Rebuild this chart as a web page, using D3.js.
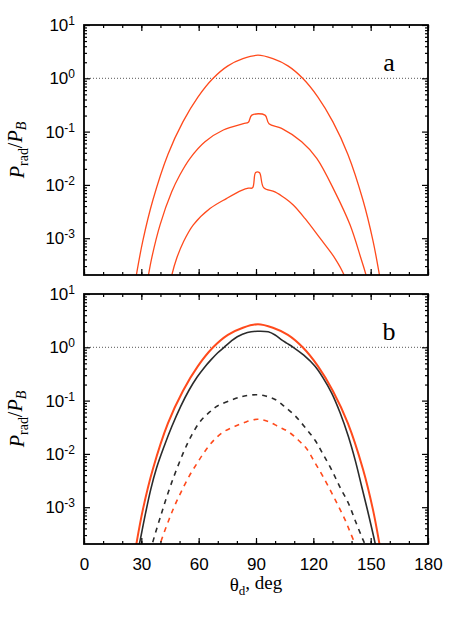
<!DOCTYPE html>
<html>
<head>
<meta charset="utf-8">
<script src="https://cdn.jsdelivr.net/npm/d3@7"></script>
<style>
  body { margin: 0; background: #fff; }
  svg { display: block; }
</style>
</head>
<body>
<div id="chart"></div>
<script>
// data: [theta_d (deg), P_rad / P_B]
const totalOrange = [
  [26.1, 1.07e-4], [27.4, 2.04e-4], [30.8, 9.0e-4], [36.05, 5.2e-3], [43.9, 0.0373],
  [51.75, 0.152], [59.6, 0.444], [67.45, 0.99], [75.3, 1.71], [83.15, 2.33],
  [91, 2.71], [98.85, 2.33], [106.7, 1.71], [114.55, 0.99], [122.4, 0.444],
  [130.25, 0.152], [138.1, 0.0373], [145.95, 5.2e-3], [151.2, 9.0e-4],
  [154.6, 2.04e-4], [155.9, 1.07e-4]
];
const midA = [
  [33, 1.4e-4], [33.7, 2e-4], [35.4, 4.2e-4], [39.8, 1.78e-3], [45.9, 7.4e-3],
  [50.2, 0.0155], [55.5, 0.0316], [63.3, 0.0646], [72.9, 0.107], [83.4, 0.141],
  [86, 0.15], [87.8, 0.204], [94.7, 0.204], [96.8, 0.141], [103.4, 0.115],
  [113.9, 0.0646], [121.8, 0.0316], [131.3, 7.4e-3], [139.2, 1.78e-3],
  [144.9, 4.2e-4], [147.6, 2e-4], [148.3, 1.4e-4]
];
const lowA = [
  [45.2, 1.5e-4], [45.9, 2e-4], [48.5, 4.2e-4], [52, 8.5e-4], [57.2, 1.78e-3],
  [65.9, 3.6e-3], [74.7, 5.6e-3], [82.5, 7.9e-3], [86, 8.7e-3], [88.2, 8.8e-3],
  [89.8, 0.017], [91.8, 0.017], [94, 8.9e-3], [99.9, 7.4e-3], [105.2, 5.6e-3],
  [109.5, 4.2e-3], [115.6, 2.35e-3], [123.5, 1e-3], [131.3, 4.2e-4],
  [136.2, 2e-4], [137, 1.6e-4]
];
const blackB = [
  [28, 1.5e-4], [28.8, 1.9e-4], [31.5, 5.8e-4], [34.9, 2.14e-3], [38, 5.5e-3],
  [41.9, 0.0138], [46, 0.033], [50.6, 0.078], [55, 0.158], [59.3, 0.28], [63, 0.42],
  [66.3, 0.575], [70, 0.79], [73.3, 1.0], [77, 1.3], [80.2, 1.58], [85.5, 1.9],
  [90.7, 2.0], [96.4, 1.95], [100, 1.7], [103.4, 1.38], [106, 1.2], [109.5, 1.0],
  [115, 0.71], [120.9, 0.44], [125, 0.27], [129.6, 0.138], [134, 0.059],
  [138.3, 0.0214], [142, 7.4e-3], [145.3, 2.45e-3], [149, 7e-4], [152.6, 1.9e-4],
  [153.3, 1.4e-4]
];
const blackDashedB = [
  [35, 1.45e-4], [35.7, 2e-4], [40.1, 6.8e-4], [45.4, 2.6e-3], [52.3, 0.0112],
  [56.5, 0.023], [61.1, 0.042], [65.5, 0.06], [69.8, 0.079], [78.5, 0.107],
  [84, 0.122], [90.7, 0.129], [95, 0.122], [100, 0.105], [105, 0.077],
  [110.4, 0.052], [115.5, 0.032], [120.9, 0.018], [125, 0.01], [129.6, 5e-3],
  [134, 2.35e-3], [138.3, 1.2e-3], [142, 5.5e-4], [145.3, 2.8e-4], [147, 2e-4],
  [148, 1.5e-4]
];
const orangeDashedB = [
  [39, 1.5e-4], [39.8, 2e-4], [44.5, 5.9e-4], [47.5, 1.08e-3], [50.6, 1.86e-3],
  [55, 3.8e-3], [59.3, 6.8e-3], [63.5, 0.0115], [68, 0.0182], [73, 0.026],
  [78.5, 0.0324], [84, 0.039], [90.7, 0.0447], [96, 0.041], [101.8, 0.0324],
  [107, 0.026], [112.1, 0.0182], [116.5, 0.0125], [120.9, 6.8e-3], [125, 3.8e-3],
  [129.6, 1.86e-3], [133, 1.07e-3], [136.5, 5.9e-4], [139, 3.6e-4], [141.8, 2e-4],
  [142.5, 1.6e-4]
];
const xTicks = [0, 30, 60, 90, 120, 150, 180];
const yTicks = [1e-3, 1e-2, 1e-1, 1, 10];
const panelLetters = ["a", "b"];

const W = 452, H = 633;
const LEFT = 84, RIGHT = 428;
const PANELS = [{ top: 25, bottom: 275 }, { top: 294, bottom: 544 }];
const ORANGE = "#ff4a1c", BLACK = "#2b2b2b";

const svg = d3.select("#chart").append("svg")
  .attr("width", W).attr("height", H);

const x = d3.scaleLinear().domain([0, 180]).range([LEFT, RIGHT]);
const xMinor = d3.range(0, 181, 10);

const panels = [
  [
    { data: totalOrange, color: ORANGE, width: 1.3 },
    { data: midA, color: ORANGE, width: 1.3 },
    { data: lowA, color: ORANGE, width: 1.3 }
  ],
  [
    { data: totalOrange, color: ORANGE, width: 2 },
    { data: blackB, color: BLACK, width: 1.6 },
    { data: blackDashedB, color: BLACK, width: 1.6, dash: "5,5" },
    { data: orangeDashedB, color: ORANGE, width: 1.6, dash: "5,5" }
  ]
];

panels.forEach((series, i) => {
  const P = PANELS[i];
  const y = d3.scaleLog().domain([2.04e-4, 10]).range([P.bottom, P.top]);
  const yMinor = [];
  [1e-4, 1e-3, 1e-2, 1e-1, 1].forEach(dec => {
    for (let k = 2; k <= 9; k++) {
      const v = dec * k;
      if (v >= 2.04e-4 && v <= 10) yMinor.push(v);
    }
  });

  const g = svg.append("g");

  svg.append("clipPath").attr("id", "clip" + i)
    .append("rect")
    .attr("x", LEFT).attr("y", P.top)
    .attr("width", RIGHT - LEFT).attr("height", P.bottom - P.top);

  // dotted reference line at 1
  g.append("line")
    .attr("x1", LEFT).attr("x2", RIGHT)
    .attr("y1", y(1)).attr("y2", y(1))
    .attr("stroke", "#555").attr("stroke-width", 1)
    .attr("stroke-dasharray", "1,2");

  const line = d3.line()
    .x(d => x(d[0]))
    .y(d => y(d[1]))
    .curve(d3.curveCatmullRom.alpha(0.5));

  g.append("g").attr("clip-path", `url(#clip${i})`)
    .selectAll("path")
    .data(series)
    .join("path")
    .attr("d", d => line(d.data))
    .attr("fill", "none")
    .attr("stroke", d => d.color)
    .attr("stroke-width", d => d.width)
    .attr("stroke-dasharray", d => d.dash || null);

  // axes, ticks pointing inward
  const styleAxis = sel => {
    sel.select(".domain").remove();
    sel.selectAll(".tick line").attr("stroke", "#000").attr("stroke-width", 1.2);
  };

  g.append("g").attr("transform", `translate(0,${P.bottom})`)
    .call(d3.axisBottom(x).tickValues(xMinor).tickSize(-3).tickFormat(""))
    .call(styleAxis).selectAll("text").remove();
  g.append("g").attr("transform", `translate(0,${P.top})`)
    .call(d3.axisTop(x).tickValues(xMinor).tickSize(-3).tickFormat(""))
    .call(styleAxis).selectAll("text").remove();
  g.append("g").attr("transform", `translate(0,${P.top})`)
    .call(d3.axisTop(x).tickValues(xTicks).tickSize(-6).tickFormat(""))
    .call(styleAxis).selectAll("text").remove();

  const xb = g.append("g").attr("transform", `translate(0,${P.bottom})`)
    .call(d3.axisBottom(x).tickValues(xTicks).tickSize(-6).tickPadding(14))
    .call(styleAxis);
  if (i === 1) {
    xb.selectAll("text")
      .attr("font-family", "Liberation Sans, Arial, sans-serif")
      .attr("font-size", 17).attr("fill", "#000");
  } else {
    xb.selectAll("text").remove();
  }

  g.append("g").attr("transform", `translate(${LEFT},0)`)
    .call(d3.axisLeft(y).tickValues(yMinor).tickSize(-3).tickFormat(""))
    .call(styleAxis).selectAll("text").remove();
  g.append("g").attr("transform", `translate(${RIGHT},0)`)
    .call(d3.axisRight(y).tickValues(yMinor).tickSize(-3).tickFormat(""))
    .call(styleAxis).selectAll("text").remove();
  g.append("g").attr("transform", `translate(${RIGHT},0)`)
    .call(d3.axisRight(y).tickValues(yTicks).tickSize(-6).tickFormat(""))
    .call(styleAxis).selectAll("text").remove();

  const yl = g.append("g").attr("transform", `translate(${LEFT},0)`)
    .call(d3.axisLeft(y).tickValues(yTicks).tickSize(-6).tickPadding(9).tickFormat(""))
    .call(styleAxis);
  yl.selectAll(".tick text")
    .attr("font-family", "Liberation Sans, Arial, sans-serif")
    .attr("font-size", 17).attr("fill", "#000")
    .each(function (d) {
      const t = d3.select(this);
      t.append("tspan").text("10");
      t.append("tspan").attr("dy", "-0.5em").attr("font-size", 12)
        .text(Math.round(Math.log10(d)));
    });

  // frame
  g.append("rect")
    .attr("x", LEFT).attr("y", P.top)
    .attr("width", RIGHT - LEFT).attr("height", P.bottom - P.top)
    .attr("fill", "none").attr("stroke", "#000").attr("stroke-width", 1.8);

  // panel letter
  g.append("text")
    .attr("x", 389).attr("y", P.top + 45.5)
    .attr("text-anchor", "middle")
    .attr("font-family", "Liberation Serif, Times New Roman, serif")
    .attr("font-size", 26)
    .text(panelLetters[i]);

  // y title
  const yt = g.append("text")
    .attr("transform", `translate(24,${(P.top + P.bottom) / 2}) rotate(-90)`)
    .attr("text-anchor", "middle")
    .attr("font-family", "Liberation Serif, Times New Roman, serif")
    .attr("font-size", 20);
  yt.append("tspan").attr("font-style", "italic").text("P");
  yt.append("tspan").attr("font-size", 14).attr("dy", "0.3em").text("rad");
  yt.append("tspan").attr("dy", "-0.3em").text("/");
  yt.append("tspan").attr("font-style", "italic").text("P");
  yt.append("tspan").attr("font-style", "italic").attr("font-size", 14).attr("dy", "0.3em").text("B");
});

// x title
const xt = svg.append("text")
  .attr("x", (LEFT + RIGHT) / 2).attr("y", 591)
  .attr("text-anchor", "middle")
  .attr("font-family", "Liberation Serif, Times New Roman, serif")
  .attr("font-size", 19);
xt.append("tspan").text("θ");
xt.append("tspan").attr("font-size", 13).attr("dy", "0.3em").text("d");
xt.append("tspan").attr("dy", "-0.3em").text(", deg");
</script>
</body>
</html>
